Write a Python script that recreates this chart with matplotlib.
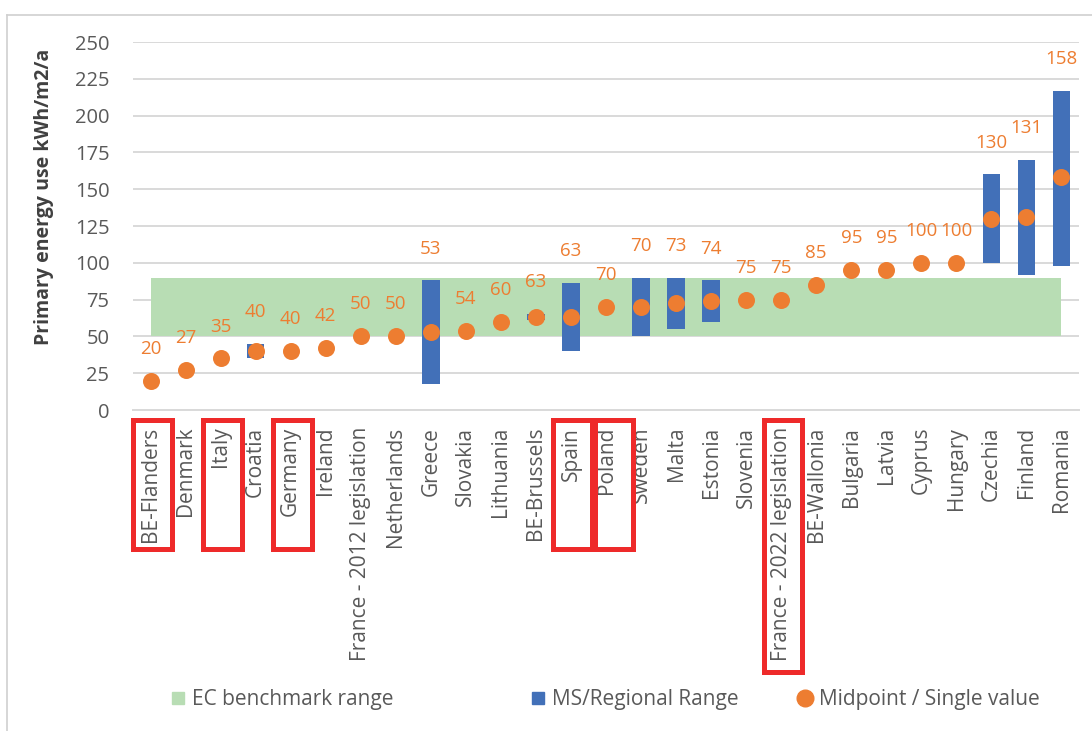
import numpy as np
import matplotlib.pyplot as plt
from matplotlib.lines import Line2D
from matplotlib.patches import Rectangle
import matplotlib.transforms as mtransforms

plt.rcParams['font.family'] = ['Open Sans', 'DejaVu Sans']

# Primary energy use per country / region (kWh/m2/a)
countries = ['BE-Flanders', 'Denmark', 'Italy', 'Croatia', 'Germany', 'Ireland',
             'France - 2012 legislation', 'Netherlands', 'Greece', 'Slovakia',
             'Lithuania', 'BE-Brussels', 'Spain', 'Poland', 'Sweden', 'Malta',
             'Estonia', 'Slovenia', 'France - 2022 legislation', 'BE-Wallonia',
             'Bulgaria', 'Latvia', 'Cyprus', 'Hungary', 'Czechia', 'Finland', 'Romania']
midpoint = [20, 27, 35, 40, 40, 42, 50, 50, 53, 54, 60, 63, 63, 70, 70, 73, 74,
            75, 75, 85, 95, 95, 100, 100, 130, 131, 158]
# MS/regional ranges (None = single value)
range_low = [None, None, None, 35, None, None, None, None, 18, None, None, 61, 40,
             None, 50, 55, 60, None, None, None, None, None, None, None, 100, 92, 98]
range_high = [None, None, None, 45, None, None, None, None, 88, None, None, 65, 86,
              None, 90, 90, 88, None, None, None, None, None, None, None, 160, 170, 217]
bench_low, bench_high = 50, 90

highlighted = ['BE-Flanders', 'Italy', 'Germany', 'Spain', 'Poland',
               'France - 2022 legislation']

GREEN = '#B8DDB4'
BLUE = '#4270B8'
ORANGE = '#ED7D31'
GREY_TXT = '#595959'
GRID = '#D9D9D9'
RED = '#EE2A2A'

fig = plt.figure(figsize=(10.92, 7.31), dpi=100)
ax = fig.add_axes([133 / 1092, 1 - 410 / 731, 946 / 1092, 368 / 731])

x = np.arange(len(countries))
lo = np.array([np.nan if v is None else v for v in range_low], dtype=float)
hi = np.array([np.nan if v is None else v for v in range_high], dtype=float)
mid = np.array(midpoint, dtype=float)

ax.fill_between(x, bench_low, bench_high, color=GREEN, lw=0, zorder=1)
ax.bar(x, hi - lo, bottom=lo, width=0.5, color=BLUE, zorder=2)
ax.scatter(x, mid, s=150, color=ORANGE, zorder=3, linewidths=0)

# value labels sit above the bar top or the point
top = np.where(np.isnan(hi), mid, np.fmax(hi, mid))
for xi, yi, v in zip(x, top, midpoint):
    ax.annotate(f'{v}', (xi, yi), xytext=(0, 23), textcoords='offset points',
                ha='center', va='center', color=ORANGE, fontsize=13.5)

ax.set_xlim(-0.5, len(countries) - 0.5)
ax.set_ylim(0, 250)
ax.set_yticks(np.arange(0, 251, 25))
ax.set_xticks(x)
ax.set_xticklabels(countries, rotation=90, va='top', ha='center')
ax.tick_params(axis='x', length=0, pad=12, labelsize=15, labelcolor=GREY_TXT)
ax.tick_params(axis='y', length=0, pad=17, labelsize=14.5, labelcolor=GREY_TXT)
ax.yaxis.grid(True, color=GRID, lw=1.4)
ax.set_axisbelow(True)
for s in ['top', 'right', 'left']:
    ax.spines[s].set_visible(False)
ax.spines['bottom'].set_color(GRID)
ax.spines['bottom'].set_linewidth(1.4)

ax.text(-0.094, 0.58, 'Primary energy use kWh/m2/a', transform=ax.transAxes,
        rotation=90, ha='center', va='center', fontsize=14, fontweight='bold',
        color='#404040')

# red boxes around selected category labels
trans = mtransforms.blended_transform_factory(ax.transData, ax.transAxes)
for name in highlighted:
    i = countries.index(name)
    depth = 0.713 if len(name) > 15 else 0.379
    left, right = (i - 0.31, i + 0.77) if name == 'Poland' else (i - 0.5, i + 0.6)
    ax.add_patch(Rectangle((left, -0.0285), right - left, -(depth - 0.0285),
                           transform=trans, fill=False, edgecolor=RED, lw=3.6,
                           clip_on=False, zorder=5))

# legend entries spread along the bottom
entries = [
    (Line2D([], [], marker='s', ls='', color=GREEN, markersize=9), 'EC benchmark range', 171),
    (Line2D([], [], marker='s', ls='', color=BLUE, markersize=9), 'MS/Regional Range', 531),
    (Line2D([], [], marker='o', ls='', color=ORANGE, markersize=12), 'Midpoint / Single value', 798),
]
for handle, label, px in entries:
    leg = fig.legend([handle], [label], loc='center left',
                     bbox_to_anchor=(px / 1092, (731 - 700) / 731), frameon=False,
                     fontsize=15, handlelength=0.7, handletextpad=0.3,
                     borderpad=0, borderaxespad=0, labelcolor=GREY_TXT)

# chart frame
fig.add_artist(Line2D([7 / 1092, 1], [1 - 15 / 731, 1 - 15 / 731], color='#D0D0D0', lw=1.2))
fig.add_artist(Line2D([7 / 1092, 7 / 1092], [0, 1 - 15 / 731], color='#D0D0D0', lw=1.2))

fig.savefig('out.png', dpi=100)
